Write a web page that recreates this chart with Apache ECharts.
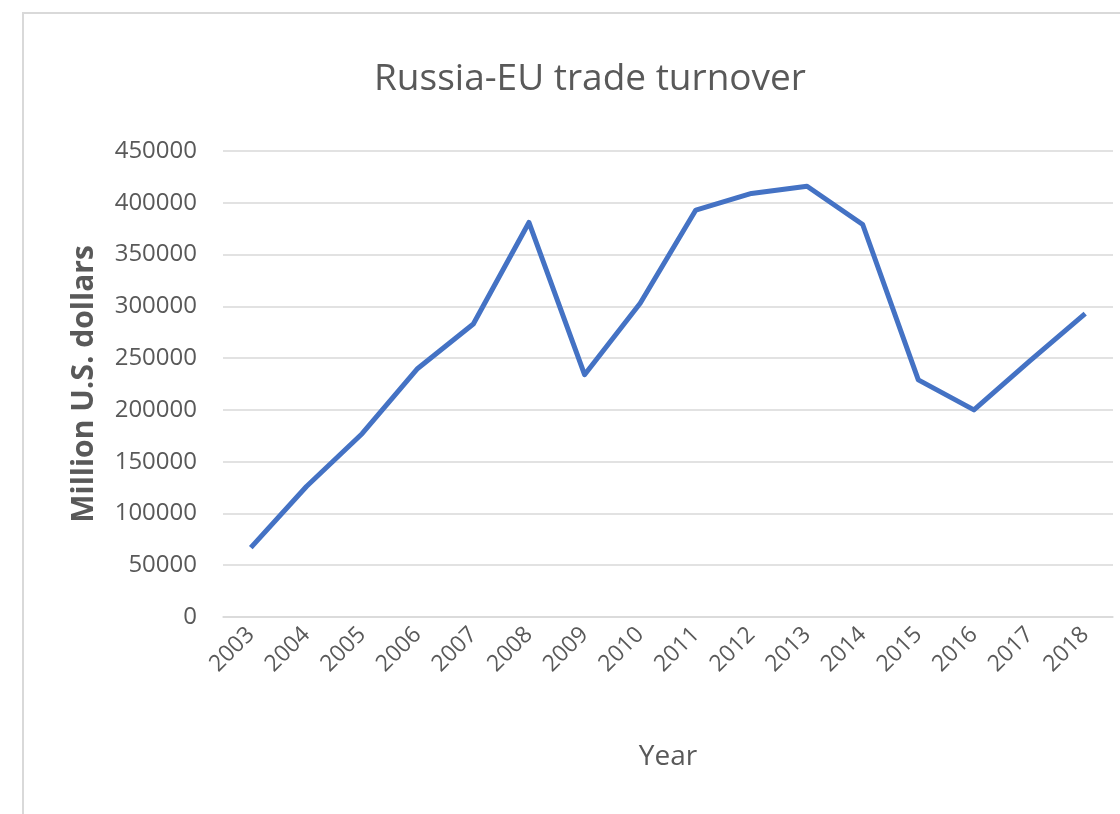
<!DOCTYPE html>
<html>
<head>
<meta charset="utf-8">
<script src="https://cdn.jsdelivr.net/npm/echarts@6/dist/echarts.min.js"></script>
<style>
html,body{margin:0;padding:0;background:#fff;}
#frame{position:absolute;left:22px;top:12px;width:1120px;height:820px;border-top:2px solid #d9d9d9;border-left:2px solid #d9d9d9;}
#chart{position:absolute;left:0;top:0;width:1120px;height:814px;}
</style>
</head>
<body>
<div id="frame"></div>
<div id="chart"></div>
<script>
const years = ['2003','2004','2005','2006','2007','2008','2009','2010','2011','2012','2013','2014','2015','2016','2017','2018'];
const turnover = [67000,126000,177000,240000,283000,381000,234000,303000,393000,409000,416000,379000,229000,200000,247000,293000];
const yTicks = {min:0, max:450000, interval:50000};

const chart = echarts.init(document.getElementById('chart'));
chart.setOption({
  animation:false,
  title:{
    text:'Russia-EU trade turnover',
    left:585, top:56, textAlign:'center',
    textStyle:{fontFamily:'Open Sans', fontSize:37, fontWeight:'normal', color:'#595959'}
  },
  grid:{left:223, right:7, top:151, bottom:197, containLabel:false},
  xAxis:{
    type:'category', data:years, boundaryGap:true,
    name:'Year', nameLocation:'middle', nameGap:126,
    nameTextStyle:{fontFamily:'Open Sans', fontSize:28, color:'#595959'},
    axisLine:{show:true, lineStyle:{color:'#d9d9d9', width:1.5}},
    axisTick:{show:false},
    axisLabel:{rotate:45, margin:14, fontFamily:'Open Sans', fontSize:23, color:'#595959', interval:0}
  },
  yAxis:{
    type:'value', min:yTicks.min, max:yTicks.max, interval:yTicks.interval,
    name:'Million U.S. dollars', nameLocation:'middle', nameGap:124,
    nameTextStyle:{fontFamily:'Open Sans', fontSize:30, fontWeight:'bold', color:'#595959'},
    axisLine:{show:false}, axisTick:{show:false},
    splitLine:{lineStyle:{color:'#d9d9d9', width:1.5}},
    axisLabel:{margin:26, fontFamily:'Open Sans', fontSize:24, color:'#595959', formatter:function(v){return String(v);}}
  },
  series:[{
    type:'line', data:turnover, symbol:'none',
    lineStyle:{color:'#4472C4', width:5, join:'round'}
  }]
});
</script>
</body>
</html>
